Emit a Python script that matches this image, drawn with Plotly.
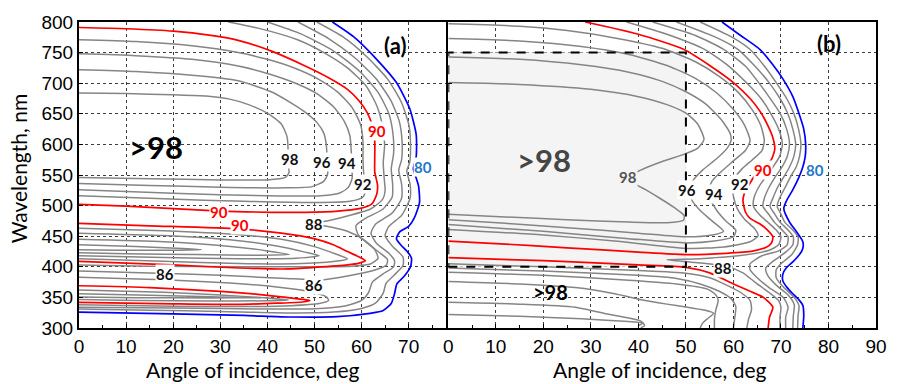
import plotly.graph_objects as go

# ---------------- Panel (a): contour lines, (angle of incidence [deg], wavelength [nm]) ----------------
A98 = [(0,684),(10,683),(20,681),(27,679),(32,674),(36,665),(40,651),(43,633),(44.2,612),(44.4,590),(44.4,568),(44.6,554),(43.8,546),(40,542),(30,542),(15,544),(0,546)]
A96 = [(0,722),(12,719),(24,713),(33.8,704),(40.8,686),(45,668),(47.8,654),(50.5,636),(52,618),(52.5,600),(52.7,575),(52.8,552),(52,540),(49.5,531),(44,529),(30,530),(15,533),(0,536)]
A94 = [(0,748),(12,745),(24,739),(33.8,728),(40,716),(46,700),(50.5,683),(54,662),(56.3,638),(57.5,615),(57.8,590),(57.9,565),(58,545),(57.2,530),(55.5,521),(51.3,516),(40,516),(20,520),(0,526)]
A92 = [(0,771),(12,768),(24,761),(33.8,750),(40,739),(46,724),(51,706),(55,685),(58,660),(59.8,632),(60.3,605),(60.3,575),(60.5,550),(61,528),(60.3,514),(57.5,507),(50,505),(35,507),(18,511),(0,516)]
A90 = [(0,791),(10,789),(20,785),(28,778),(33.8,770),(41,752),(47.8,729),(53,709),(57,690),(59.5,671),(61.2,652),(62.3,630),(62.8,605),(62.8,578),(62.8,555),(63.4,533),(63.2,518),(62.2,503),(59.5,495),(55,491),(48,489),(40.8,489),(30,491),(20,495),(10,499),(0,502)]
A88 = [(31.7,800),(38,790),(46.4,771),(52,750),(57,725),(61,695),(63.3,662),(64.4,632),(64.9,600),(64.6,570),(64.8,545),(65,525),(64.6,512),(63.5,503),(61.8,494),(57,483),(52,474),(48,471),(52,467),(57,458),(60.5,444),(62.8,428),(63.5,414),(62,405),(58,401),(50,400),(35,400),(15,401),(0,403)]
A86 = [(40,800),(47,781),(54,753),(59.5,720),(63.5,685),(65.8,650),(66.7,615),(66.8,585),(66.3,560),(66.6,535),(66.5,514),(64.5,494),(61,480),(58.8,467),(59.3,452),(61.5,437),(64,422),(65.5,412),(65.3,403),(62.5,394),(57,385),(52,379),(44,381),(30,386),(15,390),(0,393)]
A84 = [(46.5,800),(53,773),(58.5,742),(63,708),(66.2,672),(68,638),(68.6,605),(68.5,575),(67.9,558),(68.5,535),(68.5,512),(66.5,488),(63,470),(62,455),(63.2,438),(65.8,422),(67,410),(66.8,400),(64.5,388),(62.3,375),(61.5,358),(60,345),(56.5,336),(50,331.5),(40,331),(20,332.5),(0,334)]
A82 = [(50.5,800),(56,776),(61,744),(65.5,707),(68.5,668),(70.1,630),(70.4,595),(70.2,570),(69.6,557),(70.3,535),(70.3,512),(68.5,484),(65.8,466),(65,451),(66.5,434),(68.8,416),(68.8,402),(67,387),(65.2,373),(64.6,357),(63,341),(60,332),(54,326),(45,324.5),(30,327),(15,329),(0,331)]
A80 = [(53.8,800),(58.3,776),(63.2,739),(67.4,701),(70.2,659),(71.6,616),(71.6,580),(71.0,560),(71.6,545),(72.1,532),(72.3,505),(71.2,480),(70,466),(68.1,457),(67.4,446),(68.3,436),(69.8,424),(70.6,414),(70.4,400),(69,384),(67.5,372),(67.0,356),(66.3,340),(64.5,328),(61.8,324),(54.8,318.5),(45,318),(35,320.5),(20,323),(0,326)]
A90M = [(0,471),(15,467),(33.8,462),(43,455),(49.9,446),(54,436),(57,425),(59.5,416),(60.8,410),(59.5,406),(57,403),(50,399),(44.3,396.5),(34,398),(20,403),(0,409)]
A92M = [(0,463),(18,459),(33,453),(43,445),(50,433),(54.5,421),(57,413),(54,408.5),(46,405),(34,405.5),(18,409),(0,413)]
A94M = [(0,455),(18,451),(32,444),(42,434),(48,424),(51,418),(46,414),(34,413),(18,415),(0,418)]
A96M = [(0,445),(18,441),(30,435),(40,426),(44.7,420),(38,419),(25,420),(10,421.5),(0,423)]
A98M = [(0,436),(12,433),(22,430),(26,428),(18,427),(8,427),(0,428)]
A90L = [(0,369),(15,366),(30,360),(38,355),(44,350),(48,346.5),(49,345),(47.5,342.5),(42,340.5),(33.8,338.5),(20,339.5),(0,342)]
A92L = [(0,362),(18,358.5),(30,354),(40,349),(44.5,346),(40,344.5),(28,344),(12,345),(0,346.5)]
A94L = [(0,356),(15,353.5),(28,351),(38.5,349.5),(28,349.2),(12,349.5),(0,350.5)]
A88L = [(0,383),(18,379),(32,373.5),(42,367),(48.5,360),(52.5,351),(53,345),(51,340),(45,336.5),(33.8,335),(20,335.5),(0,338)]

# ---------------- Panel (b) ----------------
B98 = [(0,701),(15,698),(30,690),(40,678),(46,665),(50,651),(52.5,633),(53.8,608),(52.5,594),(50,585),(45,572),(40.5,558),(38.1,548),(39,537),(41.5,526),(44.5,512),(47.5,497),(49.6,484),(49.5,476),(46,472),(38,473),(25,477),(12,481.5),(0,486)]
B96 = [(0,743),(15,739),(28,730),(38,718),(45,703),(50,686),(54,667),(57.5,640),(59.3,618),(59.5,606),(58.7,594),(56.5,577),(53.5,558),(51.5,541),(51,525),(51.2,510),(53,492),(55.5,475),(57.9,458),(55.5,452),(50.2,449),(40,455),(25,464),(12,471),(0,477)]
B94 = [(0,773),(15,769),(28,760),(38,747),(46,729),(52,708),(56.5,684),(60,657),(62.3,632),(63.5,606),(62.5,590),(60,573),(57.5,556),(55.5,540),(54.8,525),(55.2,510),(56.5,492),(58.5,474),(60.5,460),(60,449),(56,442),(50,439),(38,446),(20,458),(0,469)]
B92 = [(0,797),(15,793),(25,786),(35,774),(45,757),(52,735),(57,711),(61,685),(64,656),(65.8,630),(66.5,606),(66,590),(64,575),(61.8,560),(60.3,545),(59.8,530),(60,515),(60.8,495),(62.3,478),(64.5,462),(65.2,451),(63.5,441),(58,432.5),(50,430),(35,442),(20,452),(0,461)]
B90 = [(28.8,800),(40,780),(49.6,755),(55,729),(60,701),(63.5,675),(65.6,654),(67.3,630),(68.3,611),(68.7,592),(67.9,574),(66.3,563),(64.7,551),(63.5,537),(62.3,520),(62,508),(62.5,490),(63.5,479),(65.6,470),(66.9,462),(68.3,449),(68,439),(66.9,432),(64,425.5),(58.5,422),(50,420),(40,424),(25,431),(10,438),(0,442)]
B88 = [(37.5,800),(46,780),(54,755),(59,728),(62.7,701),(65.8,675),(67.8,651),(69.5,625),(70.3,600),(69.7,580),(68.3,563),(66.8,547),(65.3,530),(64.3,512),(64.2,499),(65.5,485),(67.2,473),(69,460),(70,449),(69.5,436),(67.5,427),(61,418),(53,413),(46,411.5),(52,407),(58.5,401),(62,390),(64.5,375),(67.5,358),(69.5,345),(70,334),(69.8,318),(69.8,300)]
B86 = [(43,800),(52,778),(58,755),(62.5,728),(65.3,701),(68,672),(69.8,651),(71.2,625),(71.8,600),(71.3,580),(70.2,563),(68.8,547),(67.5,530),(66.5,512),(66.2,499),(67.5,485),(68.6,473),(70.5,458),(71.5,449),(71.3,436),(69.5,426),(66,418),(63.5,405),(63.5,395),(65,382),(67.5,366),(70.5,350),(71.5,334),(71,318),(71,300)]
B84 = [(48,800),(56,776),(61,755),(64.5,728),(67.5,701),(69.8,675),(71.4,651),(72.5,625),(73.1,600),(72.7,580),(71.8,563),(70.6,547),(69.3,530),(68.3,512),(67.7,499),(68.7,486),(69.8,473),(71.5,460),(72.6,449),(72.5,436),(71,424),(68.5,410),(66.8,398),(67.2,386),(69,370),(71.5,354),(72.8,338),(72.6,320),(72.5,300)]
B82 = [(53,800),(59.5,776),(63.5,755),(66.5,728),(69,701),(71.2,675),(72.7,651),(73.7,625),(74.2,600),(73.9,580),(73.2,563),(72,547),(70.9,530),(69.7,512),(69.2,499),(70,486),(70.8,473),(72.5,460),(73.6,449),(73.5,436),(72.3,420),(70,405),(69,395),(69,382),(70.6,366),(72.8,350),(73.8,336),(73.6,320),(73.5,300)]
B80 = [(57.6,800),(61.5,778),(65.6,755),(68.3,730),(70.4,707),(72.5,678),(73.9,648),(74.8,625),(75.2,600),(75.1,580),(74.6,563),(73.7,545),(72.5,526),(71.1,507),(70.6,495),(71.8,473),(73.2,458),(74.6,441),(74.6,430),(73.9,420),(72.5,408),(71.1,398),(70.4,388),(70.4,377),(71.3,366),(72.5,356),(73.8,346),(74.6,337),(74.8,320),(74.6,300)]
B90B = [(0,415),(20,410),(40,403),(50,399),(55,390),(60,372),(63.5,360),(66.3,350),(68.3,334),(67.6,318),(67.3,300)]
B92B = [(0,405),(20,400),(40,394),(50,389.5),(55,382),(58,372),(61.5,358),(63.5,345),(63.8,330),(63.2,315),(62.8,300)]
B94B = [(0,398),(20,393),(40,386),(48,381),(53,372),(57,360),(59.5,348),(60.5,335),(60.3,318),(60,300)]
B96B = [(0,391),(20,386),(38,378),(48,372),(54.4,364),(56.3,354),(56.8,345),(56.3,330),(56,315),(56,300)]
B98B = [(0,376),(15,372),(26.7,366),(35,356),(40.6,346),(46,339),(50,334.5),(54,329),(55.8,324),(54.5,315),(53.5,308),(53,300)]
B98C = [(0,342),(15,339),(26.7,334),(34,322),(40.6,311),(41.3,304),(40.5,300.5)]
B98D = [(0,322),(15,319),(28,315),(37,311),(41,308),(40,304)]

# shaded ">98" region in panel (b)
REGION_X = [0, 50]
REGION_Y = [400, 750]

# ticks
X_TICKS_A = [0, 10, 20, 30, 40, 50, 60, 70]
X_TICKS_B = [0, 10, 20, 30, 40, 50, 60, 70, 80, 90]
Y_TICKS = [300, 350, 400, 450, 500, 550, 600, 650, 700, 750, 800]

# text labels (text, angle, wavelength)
LABELS_A = [("98", 44.7, 576), ("96", 51.7, 572), ("94", 56.8, 569), ("92", 60.3, 535),
            ("88", 49.9, 470), ("86", 18.3, 388), ("86", 49.8, 371)]
RED_LABELS_A = [("90", 63.2, 622), ("90", 29.8, 490), ("90", 34.2, 469)]
BLUE_LABELS_A = [("80", 73.0, 563)]
LABELS_B = [("96", 50.3, 526), ("94", 56.0, 519), ("92", 61.4, 535), ("88", 57.9, 398)]
GRAY_LABELS_B = [("98", 37.8, 547)]
RED_LABELS_B = [("90", 66.3, 558)]
BLUE_LABELS_B = [("80", 77.2, 558)]

GRAY = "#858585"
RED = "#ff0000"
BLUE = "#0000ff"

curves = [
    ("x", "y", A98, GRAY), ("x", "y", A96, GRAY), ("x", "y", A94, GRAY), ("x", "y", A92, GRAY),
    ("x", "y", A88, GRAY), ("x", "y", A86, GRAY), ("x", "y", A84, GRAY), ("x", "y", A82, GRAY),
    ("x", "y", A92M, GRAY), ("x", "y", A94M, GRAY), ("x", "y", A96M, GRAY), ("x", "y", A98M, GRAY),
    ("x", "y", A92L, GRAY), ("x", "y", A94L, GRAY), ("x", "y", A88L, GRAY),
    ("x", "y", A90, RED), ("x", "y", A90M, RED), ("x", "y", A90L, RED), ("x", "y", A80, BLUE),
    ("x2", "y2", B98, GRAY), ("x2", "y2", B96, GRAY), ("x2", "y2", B94, GRAY), ("x2", "y2", B92, GRAY),
    ("x2", "y2", B88, GRAY), ("x2", "y2", B86, GRAY), ("x2", "y2", B84, GRAY), ("x2", "y2", B82, GRAY),
    ("x2", "y2", B92B, GRAY), ("x2", "y2", B94B, GRAY), ("x2", "y2", B96B, GRAY), ("x2", "y2", B98B, GRAY),
    ("x2", "y2", B98C, GRAY), ("x2", "y2", B98D, GRAY),
    ("x2", "y2", B90, RED), ("x2", "y2", B90B, RED), ("x2", "y2", B80, BLUE),
]

fig = go.Figure()
for xa, ya, pts, col in curves:
    fig.add_trace(go.Scatter(
        x=[p[0] for p in pts], y=[p[1] for p in pts], mode="lines",
        line=dict(color=col, width=1.5 if col == GRAY else 1.7, shape="spline", smoothing=0.6),
        xaxis=xa, yaxis=ya, hoverinfo="skip", showlegend=False))

axis_common = dict(
    showgrid=True, gridcolor="#3c3c3c", griddash="dot", gridwidth=1,
    showline=True, linecolor="black", linewidth=2, mirror=True,
    ticks="inside", ticklen=4, tickcolor="black", zeroline=False,
    tickfont=dict(family="Liberation Sans, Arial, sans-serif", size=19, color="black"),
)

fig.update_layout(
    width=899, height=384,
    margin=dict(l=79, r=15, t=15, b=56),
    paper_bgcolor="white", plot_bgcolor="white",
    xaxis=dict(domain=[0, 0.4609], range=[0, 78], tickvals=X_TICKS_A, anchor="y",
               minor=dict(ticks="inside", dtick=5, tick0=0, ticklen=3, tickcolor="black", showgrid=False),
               **axis_common),
    yaxis=dict(domain=[0, 1], range=[300, 800], tickvals=Y_TICKS, anchor="x", **axis_common),
    xaxis2=dict(domain=[0.4634, 1], range=[0, 90], tickvals=X_TICKS_B, anchor="y2",
                minor=dict(ticks="inside", dtick=5, tick0=0, ticklen=3, tickcolor="black", showgrid=False),
                **axis_common),
    yaxis2=dict(domain=[0, 1], range=[300, 800], tickvals=Y_TICKS, anchor="x2", showticklabels=False,
                **axis_common),
)

# shaded region + dashed border (panel b)
fig.add_shape(type="rect", xref="x2", yref="y2", x0=REGION_X[0], x1=REGION_X[1], y0=REGION_Y[0], y1=REGION_Y[1],
              fillcolor="#f4f4f4", line=dict(width=0), layer="between")
fig.add_shape(type="rect", xref="x2", yref="y2", x0=REGION_X[0], x1=REGION_X[1], y0=REGION_Y[0], y1=REGION_Y[1],
              fillcolor="rgba(0,0,0,0)", line=dict(color="black", width=2, dash="dash"), layer="above")

LABEL_FONT = "Lato, Open Sans, sans-serif"

def add_labels(items, xref, yref, color, bg):
    for t, x, y in items:
        fig.add_annotation(x=x, y=y, xref=xref, yref=yref, text=f"<b>{t}</b>", showarrow=False,
                           font=dict(family=LABEL_FONT, size=15, color=color), bgcolor=bg, borderpad=0)

add_labels(LABELS_A, "x", "y", "#111111", "white")
add_labels(RED_LABELS_A, "x", "y", RED, "white")
add_labels(BLUE_LABELS_A, "x", "y", "#1f78c8", "white")
add_labels(LABELS_B, "x2", "y2", "#111111", "white")
add_labels(GRAY_LABELS_B, "x2", "y2", "#555555", "#f4f4f4")
add_labels(RED_LABELS_B, "x2", "y2", RED, "white")
add_labels(BLUE_LABELS_B, "x2", "y2", "#1f78c8", "white")

# big region labels
fig.add_annotation(x=16.4, y=596, xref="x", yref="y", text="<b>&gt;98</b>", showarrow=False,
                   font=dict(family=LABEL_FONT, size=31, color="black"))
fig.add_annotation(x=20.1, y=574, xref="x2", yref="y2", text="<b>&gt;98</b>", showarrow=False,
                   font=dict(family=LABEL_FONT, size=31, color="#454545"))
fig.add_annotation(x=21.5, y=359, xref="x2", yref="y2", text="<b>&gt;98</b>", showarrow=False,
                   font=dict(family=LABEL_FONT, size=20, color="black"))
# panel tags
fig.add_annotation(x=67.0, y=762, xref="x", yref="y", text="<b>(a)</b>", showarrow=False,
                   font=dict(family=LABEL_FONT, size=22, color="black"))
fig.add_annotation(x=80.1, y=765, xref="x2", yref="y2", text="<b>(b)</b>", showarrow=False,
                   font=dict(family=LABEL_FONT, size=22, color="black"))

# axis titles
TITLE_FONT = dict(family="Lato, Open Sans, sans-serif", size=21, color="black")
fig.add_annotation(xref="paper", yref="paper", x=0.218, y=-0.134, text="Angle of incidence, deg",
                   showarrow=False, font=TITLE_FONT, xanchor="center", yanchor="middle")
fig.add_annotation(xref="paper", yref="paper", x=0.729, y=-0.134, text="Angle of incidence, deg",
                   showarrow=False, font=TITLE_FONT, xanchor="center", yanchor="middle")
fig.add_annotation(xref="paper", yref="paper", x=-0.076, y=0.52, text="Wavelength, nm", textangle=-90,
                   showarrow=False, font=TITLE_FONT, xanchor="center", yanchor="middle")

fig.write_html("out.html")
